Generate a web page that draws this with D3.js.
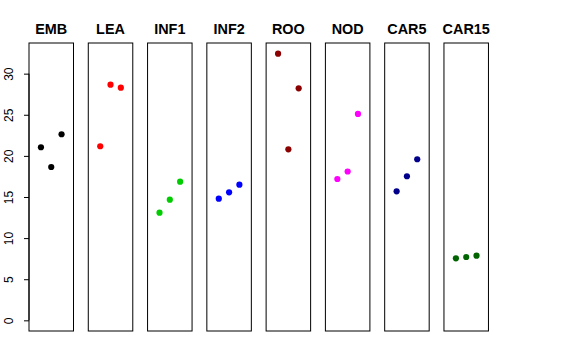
<!DOCTYPE html>
<html><head><meta charset="utf-8">
<script src="https://cdn.jsdelivr.net/npm/d3@7"></script>
<style>body{margin:0;background:#fff}svg{display:block}</style>
</head><body>
<svg id="c" width="576" height="360"></svg>
<script>
const categories = ["EMB","LEA","INF1","INF2","ROO","NOD","CAR5","CAR15"];
const colors = ["#000000","#FF0000","#00CD00","#0000FF","#8B0000","#FF00FF","#00008B","#006400"];
const EMB = [21.05, 18.65, 22.63];
const LEA = [21.17, 28.66, 28.30];
const INF1 = [13.09, 14.67, 16.86];
const INF2 = [14.79, 15.57, 16.50];
const ROO = [32.43, 20.80, 28.22];
const NOD = [17.19, 18.10, 25.10];
const CAR5 = [15.69, 17.52, 19.59];
const CAR15 = [7.54, 7.70, 7.86];
const seriesValues = [EMB, LEA, INF1, INF2, ROO, NOD, CAR5, CAR15];
const yTicks = [0, 5, 10, 15, 20, 25, 30];

const svg = d3.select("#c");
const pTop = 43, pBottom = 331;
const panelW = 44.5, x0 = 29, step = 59.28;
const yMax = 32.43;
const pad = 0.04 * yMax;
const y = d3.scaleLinear().domain([-pad, yMax + pad]).range([pBottom, pTop]);
const xin = d3.scaleLinear().domain([-0.16, 4.16]).range([0, panelW]);

categories.forEach((cat, i) => {
  const left = x0 + i * step;
  const g = svg.append("g").attr("transform", `translate(${left},0)`);
  g.append("rect").attr("x", 0).attr("y", pTop).attr("width", panelW).attr("height", pBottom - pTop)
    .attr("fill", "none").attr("stroke", "#000").attr("stroke-width", 1);
  g.selectAll("circle").data(seriesValues[i]).enter().append("circle")
    .attr("cx", (d, j) => xin(j + 1)).attr("cy", d => y(d)).attr("r", 3.1)
    .attr("fill", colors[i]);
  g.append("text").attr("x", panelW / 2).attr("y", 34).attr("text-anchor", "middle")
    .attr("font-family", "Liberation Sans, Arial, sans-serif").attr("font-weight", "bold")
    .attr("font-size", 14.4).text(cat);
  if (i === 0) {
    const ax = d3.axisLeft(y).tickValues(yTicks).tickSize(5).tickPadding(3).tickFormat(d3.format("d"));
    const a = g.append("g").call(ax);
    a.select(".domain").attr("d", `M0,${y(0)}V${y(30)}`).attr("stroke", "#000");
    a.selectAll(".tick line").attr("stroke", "#000");
    a.selectAll(".tick text").attr("font-family", "Liberation Sans, Arial, sans-serif").attr("font-size", 12)
      .attr("fill", "#000").attr("text-anchor", "middle").attr("dy", null)
      .attr("transform", "rotate(-90)").attr("x", 0).attr("y", -16);
  }
});
</script>
</body></html>
